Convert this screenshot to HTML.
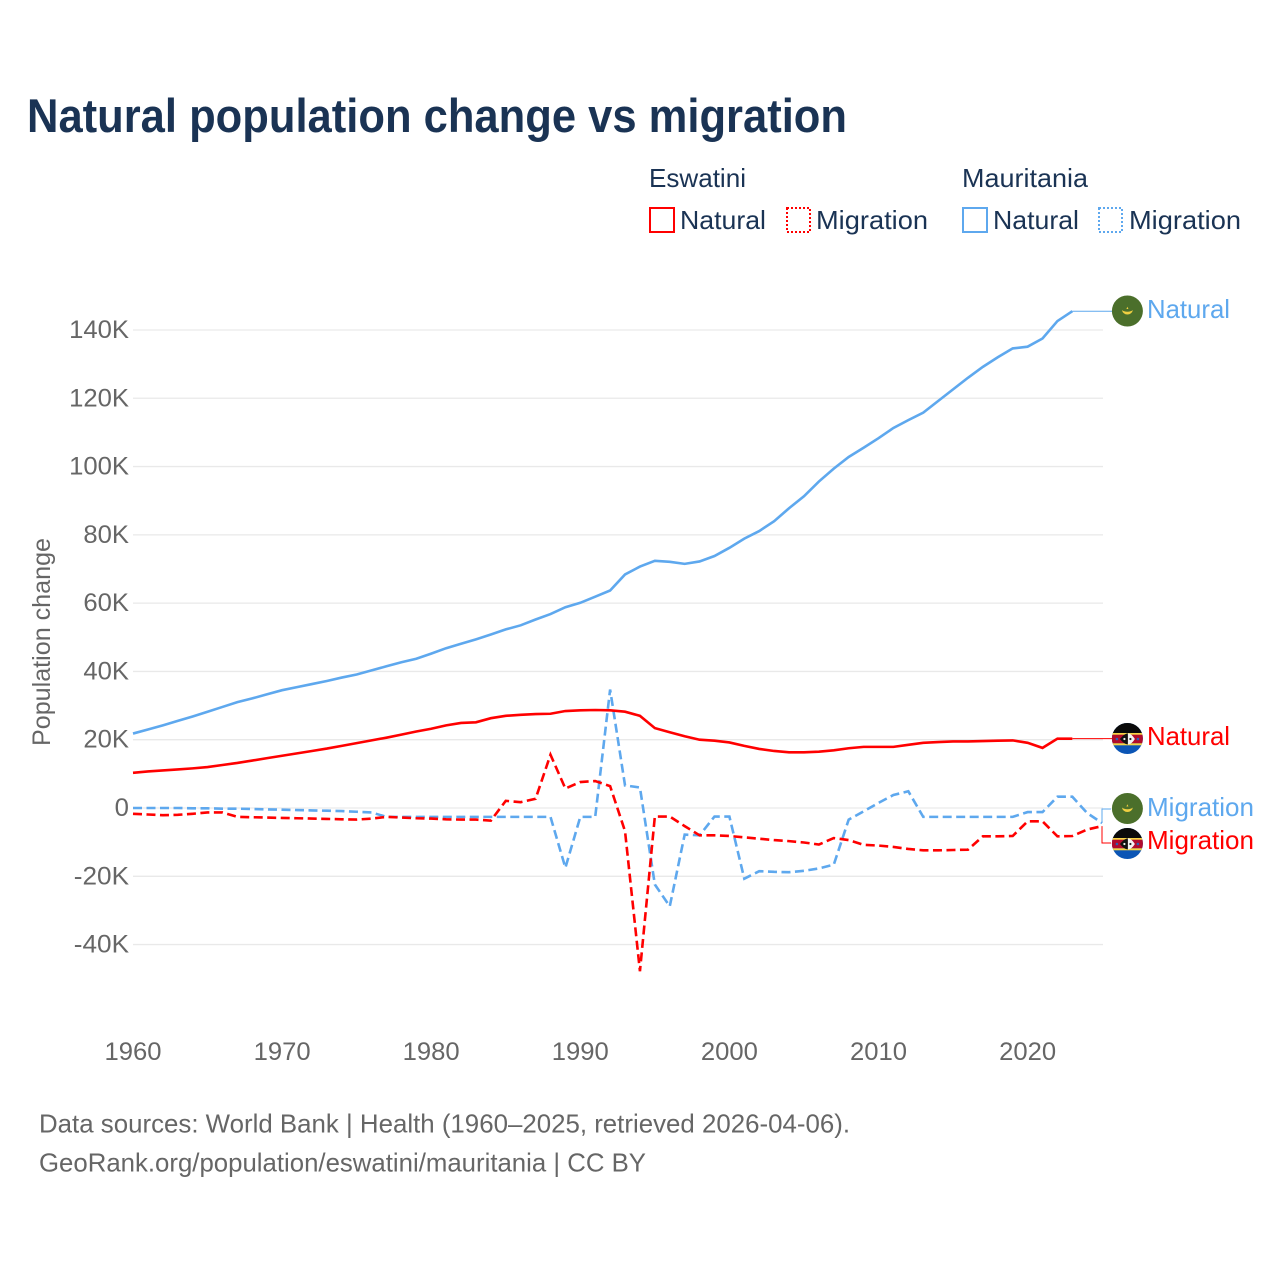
<!DOCTYPE html>
<html lang="en">
<head>
<meta charset="utf-8">
<title>Natural population change vs migration</title>
<style>
html,body{margin:0;padding:0;background:#fff}
svg{display:block}
text{font-family:"Liberation Sans",sans-serif}
</style>
</head>
<body>
<svg id="chart" xmlns="http://www.w3.org/2000/svg" width="1280" height="1280" viewBox="0 0 1280 1280">
<defs>
<clipPath id="flag-clip"><circle cx="0" cy="0" r="15.5"/></clipPath>
<g id="flag-eswatini" clip-path="url(#flag-clip)">
<rect x="-16" y="-16" width="32" height="32" fill="#0b55b5"/>
<rect x="-16" y="-16" width="32" height="11" fill="#0a0a0a"/>
<rect x="-16" y="-5.5" width="32" height="2" fill="#f5d547"/>
<rect x="-16" y="-3.8" width="32" height="8.6" fill="#b10c2c"/>
<rect x="-16" y="4.8" width="32" height="2" fill="#f5d547"/>
<path d="M-7.5 0.5Q-3 -5 0.5 -5.3L0.5 6Q-3 6 -7.5 0.5Z" fill="#111"/>
<path d="M0.5 -5.3Q4 -5 7.5 0.5Q4 6 0.5 6Z" fill="#f4f4f4"/>
<circle cx="-3" cy="0.5" r="1.1" fill="#eee"/>
<circle cx="3" cy="0.5" r="1.1" fill="#222"/>
<circle cx="-10.5" cy="0.5" r="1.3" fill="#2a62b5"/>
<circle cx="10.5" cy="0.5" r="1.3" fill="#2a62b5"/>
</g>
<g id="flag-mauritania" clip-path="url(#flag-clip)">
<rect x="-16" y="-16" width="32" height="32" fill="#4b6f2b"/>
<path d="M-5.5 -1A5.6 5.6 0 0 0 5.5 -1A6.5 3.8 0 0 1 -5.5 -1Z" fill="#f0cf42"/>
<path d="M0 -4.2L1 -2L-1 -2Z" fill="#f0cf42"/>
</g>
</defs>

<text x="27" y="132" font-size="47" font-weight="700" fill="#1a3354" textLength="820" lengthAdjust="spacingAndGlyphs">Natural population change vs migration</text>

<g fill="#1a3354" font-size="26">
<text x="649" y="187" textLength="97" lengthAdjust="spacingAndGlyphs">Eswatini</text>
<text x="962" y="187" textLength="126" lengthAdjust="spacingAndGlyphs">Mauritania</text>
<rect x="650" y="208" width="24" height="24" fill="none" stroke="#ff0000" stroke-width="2"/>
<text x="680" y="229" textLength="86" lengthAdjust="spacingAndGlyphs">Natural</text>
<rect x="787" y="208" width="23" height="24" fill="none" stroke="#ff0000" stroke-width="2" stroke-dasharray="2 2"/>
<text x="816" y="229" textLength="112" lengthAdjust="spacingAndGlyphs">Migration</text>
<rect x="963" y="208" width="24" height="24" fill="none" stroke="#5ea8ee" stroke-width="2"/>
<text x="993" y="229" textLength="86" lengthAdjust="spacingAndGlyphs">Natural</text>
<rect x="1099" y="208" width="23" height="24" fill="none" stroke="#5ea8ee" stroke-width="2" stroke-dasharray="2 2"/>
<text x="1129" y="229" textLength="112" lengthAdjust="spacingAndGlyphs">Migration</text>
</g>

<text transform="translate(50 642) rotate(-90)" text-anchor="middle" font-size="25" fill="#666666" textLength="208" lengthAdjust="spacingAndGlyphs">Population change</text>

<g id="grid"></g>
<g id="yticks"></g>
<g id="xticks"></g>
<g id="series"></g>
<g id="connectors"></g>
<g id="end-labels"></g>

<g fill="#666666" font-size="26">
<text x="39" y="1132.5" textLength="811" lengthAdjust="spacingAndGlyphs">Data sources: World Bank | Health (1960–2025, retrieved 2026-04-06).</text>
<text x="39" y="1171.5" textLength="607" lengthAdjust="spacingAndGlyphs">GeoRank.org/population/eswatini/mauritania | CC BY</text>
</g>
</svg>

<script>
const yTickValues = [-40, -20, 0, 20, 40, 60, 80, 100, 120, 140];
const yTickLabels = ['-40K', '-20K', '0', '20K', '40K', '60K', '80K', '100K', '120K', '140K'];
const xTickYears = [1960, 1970, 1980, 1990, 2000, 2010, 2020];
const startYear = 1960;

const mauritaniaNatural = [21.8,23,24.2,25.5,26.8,28.2,29.6,31,32.1,33.3,34.5,35.4,36.3,37.2,38.2,39.1,40.3,41.5,42.7,43.7,45.2,46.8,48.1,49.4,50.8,52.3,53.5,55.2,56.8,58.8,60.1,61.9,63.7,68.4,70.7,72.4,72.1,71.5,72.2,73.8,76.2,78.9,81.1,84,87.8,91.3,95.6,99.4,102.8,105.5,108.3,111.3,113.6,115.8,119.2,122.6,126,129.2,132,134.6,135.1,137.5,142.6,145.5];
const eswatiniNatural = [10.3,10.7,11,11.3,11.6,12,12.6,13.2,13.9,14.6,15.3,16,16.7,17.4,18.2,19,19.8,20.6,21.5,22.4,23.2,24.2,24.9,25.1,26.3,27,27.3,27.5,27.6,28.4,28.6,28.7,28.6,28.2,27,23.4,22.2,21,20,19.7,19.2,18.2,17.3,16.7,16.3,16.3,16.5,16.9,17.5,17.9,17.9,17.9,18.5,19.1,19.3,19.5,19.5,19.6,19.7,19.8,19.1,17.6,20.3,20.3];
const eswatiniMigration = [-1.7,-1.9,-2.1,-2,-1.7,-1.3,-1.3,-2.6,-2.7,-2.8,-2.9,-3,-3.1,-3.2,-3.3,-3.4,-3.1,-2.6,-2.8,-3,-3.1,-3.3,-3.4,-3.4,-3.7,2.1,1.7,2.7,15.6,5.7,7.6,7.9,6.4,-6.8,-47.8,-2.5,-2.5,-5.3,-8,-8,-8.2,-8.6,-9,-9.4,-9.7,-10.1,-10.7,-8.8,-9.4,-10.8,-11,-11.4,-12,-12.4,-12.4,-12.3,-12.2,-8.3,-8.3,-8.2,-3.9,-3.9,-8.3,-8.2,-6.3,-5.3];
const mauritaniaMigration = [0,0,0,0,-0.1,-0.1,-0.2,-0.2,-0.3,-0.4,-0.5,-0.6,-0.7,-0.8,-0.9,-1.1,-1.3,-2.6,-2.6,-2.6,-2.6,-2.6,-2.6,-2.6,-2.6,-2.6,-2.6,-2.6,-2.6,-17.5,-2.6,-2.6,34.7,6.6,6,-22.4,-28.8,-7.8,-8,-2.5,-2.5,-20.7,-18.5,-18.7,-18.8,-18.4,-17.7,-16.6,-3.4,-1,1.5,3.8,4.9,-2.6,-2.6,-2.6,-2.6,-2.6,-2.6,-2.6,-1.2,-1.2,3.3,3.3,-1.5,-4.4];

const RED = '#ff0000';
const BLUE = '#5ea8ee';
const NS = 'http://www.w3.org/2000/svg';

function xScale(year) { return 133 + (year - startYear) * 14.91; }
function yScale(v) { return 808 - v * 3.4145; }
function make(tag, attrs, parent) {
  const el = document.createElementNS(NS, tag);
  for (const k in attrs) el.setAttribute(k, attrs[k]);
  parent.appendChild(el);
  return el;
}
function tickWidth(label) {
  let w = 0;
  for (const c of label) w += c === 'K' ? 17 : c === '-' ? 9.6 : 14.3;
  return w;
}

const grid = document.getElementById('grid');
const yticks = document.getElementById('yticks');
const xticks = document.getElementById('xticks');
yTickValues.forEach((v, i) => {
  const line = make('line', { x1: 133, x2: 1103, y1: yScale(v), y2: yScale(v), stroke: '#e9e9e9', 'stroke-width': 1.3 }, grid);
  
  
  const t = make('text', { x: 129, y: yScale(v) + 8, 'text-anchor': 'end', 'font-size': 25, fill: '#666666', textLength: tickWidth(yTickLabels[i]), lengthAdjust: 'spacingAndGlyphs' }, yticks);
  t.textContent = yTickLabels[i];
  
  
});
xTickYears.forEach(year => {
  const t = make('text', { x: xScale(year), y: 1060, 'text-anchor': 'middle', 'font-size': 25, fill: '#666666', textLength: 57, lengthAdjust: 'spacingAndGlyphs' }, xticks);
  t.textContent = String(year);
  
  
});

function pathFor(values) {
  return values.map((v, i) => (i ? 'L' : 'M') + xScale(startYear + i).toFixed(2) + ' ' + yScale(v).toFixed(2)).join('');
}
const series = document.getElementById('series');

const lineMauMig = make('path', { d: pathFor(mauritaniaMigration), fill: 'none', stroke: BLUE, 'stroke-width': 2.6, 'stroke-dasharray': '9 4.5', 'stroke-linejoin': 'miter' }, series);


const lineEswMig = make('path', { d: pathFor(eswatiniMigration), fill: 'none', stroke: RED, 'stroke-width': 2.6, 'stroke-dasharray': '9 4.5', 'stroke-linejoin': 'miter' }, series);


const lineMauNat = make('path', { d: pathFor(mauritaniaNatural), fill: 'none', stroke: BLUE, 'stroke-width': 2.6 }, series);


const lineEswNat = make('path', { d: pathFor(eswatiniNatural), fill: 'none', stroke: RED, 'stroke-width': 2.6 }, series);



const conn = document.getElementById('connectors');
const lastIdx = a => a.length - 1;
const connA = make('path', { d: 'M' + xScale(startYear + lastIdx(mauritaniaNatural)) + ' ' + yScale(mauritaniaNatural[lastIdx(mauritaniaNatural)]) + 'H1112', fill: 'none', stroke: BLUE, 'stroke-width': 1 }, conn);


const connB = make('path', { d: 'M' + xScale(startYear + lastIdx(eswatiniNatural)) + ' ' + yScale(eswatiniNatural[lastIdx(eswatiniNatural)]) + 'H1112', fill: 'none', stroke: RED, 'stroke-width': 1 }, conn);


const connC = make('path', { d: 'M1102 ' + yScale(mauritaniaMigration[lastIdx(mauritaniaMigration)]) + 'V809H1111', fill: 'none', stroke: BLUE, 'stroke-width': 1 }, conn);


const connD = make('path', { d: 'M1102 ' + yScale(eswatiniMigration[lastIdx(eswatiniMigration)]) + 'V843H1111', fill: 'none', stroke: RED, 'stroke-width': 1 }, conn);



const endLabels = document.getElementById('end-labels');
const endText = ['Natural', 'Natural', 'Migration', 'Migration'];
const endColors = [BLUE, RED, BLUE, RED];
const endFlags = ['#flag-mauritania', '#flag-eswatini', '#flag-mauritania', '#flag-eswatini'];
const endFlagY = [311, 738.5, 808.5, 843.5];
const endBase = [318, 745, 816, 849];
endText.forEach((label, i) => {
  const flag = make('use', { href: endFlags[i], transform: 'translate(1127.4 ' + endFlagY[i] + ')' }, endLabels);
  
  
  const t = make('text', { x: 1147, y: endBase[i], 'font-size': 26, fill: endColors[i], textLength: label === 'Natural' ? 83 : 107, lengthAdjust: 'spacingAndGlyphs' }, endLabels);
  t.textContent = label;
  
  
});
</script>
</body>
</html>
